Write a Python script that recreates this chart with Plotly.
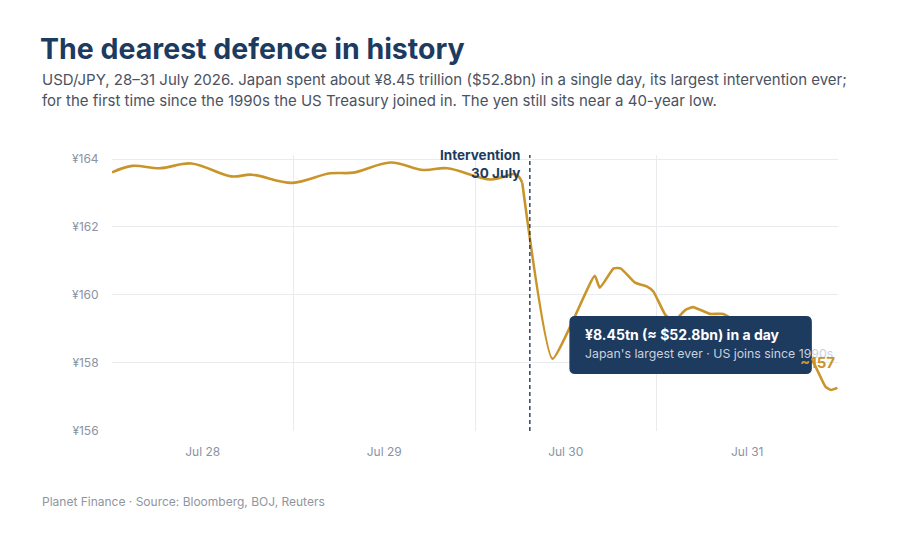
import plotly.graph_objects as go

# USD/JPY readings, 28-31 July 2026
times_before = [
    "2026-07-28 00:00", "2026-07-28 02:40", "2026-07-28 06:20", "2026-07-28 10:30",
    "2026-07-28 15:45", "2026-07-28 18:30", "2026-07-28 23:50",
    "2026-07-29 04:50", "2026-07-29 07:55", "2026-07-29 12:50", "2026-07-29 17:10",
    "2026-07-29 20:20",
    "2026-07-30 02:05", "2026-07-30 05:25", "2026-07-30 06:15",
]
usdjpy_before = [
    163.61, 163.80, 163.73, 163.87,
    163.49, 163.54, 163.30,
    163.58, 163.60, 163.90, 163.68,
    163.73,
    163.40, 163.55, 163.30,
]
times_after = [
    "2026-07-30 06:15", "2026-07-30 10:15",
    "2026-07-30 15:50", "2026-07-30 16:30", "2026-07-30 18:20", "2026-07-30 19:15",
    "2026-07-30 21:10", "2026-07-30 22:45", "2026-07-30 23:35",
    "2026-07-31 01:10", "2026-07-31 02:15", "2026-07-31 03:50", "2026-07-31 04:50",
    "2026-07-31 07:05", "2026-07-31 08:50", "2026-07-31 12:25", "2026-07-31 16:20",
    "2026-07-31 20:00", "2026-07-31 20:55", "2026-07-31 22:20", "2026-07-31 23:05",
    "2026-07-31 23:55",
]
usdjpy_after = [
    163.30, 158.12,
    160.56, 160.21, 160.78, 160.78,
    160.36, 160.24, 160.10,
    159.41, 159.22, 159.56, 159.64,
    159.44, 159.44, 158.95, 158.55,
    158.25, 157.94, 157.30, 157.20,
    157.26,
]

intervention_time = "2026-07-30 07:15"
y_ticks = [156, 158, 160, 162, 164]
y_labels = ["¥156", "¥158", "¥160", "¥162", "¥164"]

navy = "#1d3a5f"
gold = "#c9952b"
grey = "#8a93a3"
font = "Inter"

fig = go.Figure()

# calm days: smooth line; after the intervention: tighter curve
fig.add_trace(go.Scatter(
    x=times_before, y=usdjpy_before, mode="lines",
    line=dict(color=gold, width=2.6, shape="spline", smoothing=1.0),
    hoverinfo="skip",
))
fig.add_trace(go.Scatter(
    x=times_after, y=usdjpy_after, mode="lines",
    line=dict(color=gold, width=2.6, shape="spline", smoothing=0.45),
    hoverinfo="skip",
))

# dashed line on intervention day
fig.add_shape(type="line", xref="x", yref="paper",
              x0=intervention_time, x1=intervention_time, y0=0, y1=1,
              line=dict(color=navy, width=1.4, dash="4px,3px"), layer="above")

fig.add_annotation(x=intervention_time, xref="x", y=1.036, yref="paper",
                   text="<b>Intervention</b><br><b>30 July</b>", showarrow=False,
                   xanchor="right", yanchor="top", align="right", xshift=-8,
                   font=dict(family=font, size=13.5, color=navy))

# callout box (text deliberately runs past the right edge, as in the original)
bx0, bx1, by0, by1 = 0.630, 0.964, 0.2065, 0.417
rx, ry = 0.008, 0.021
box_path = (
    f"M {bx0+rx},{by0} L {bx1-rx},{by0} Q {bx1},{by0} {bx1},{by0+ry} "
    f"L {bx1},{by1-ry} Q {bx1},{by1} {bx1-rx},{by1} "
    f"L {bx0+rx},{by1} Q {bx0},{by1} {bx0},{by1-ry} "
    f"L {bx0},{by0+ry} Q {bx0},{by0} {bx0+rx},{by0} Z"
)
fig.add_shape(type="path", path=box_path, xref="paper", yref="paper",
              fillcolor=navy, line=dict(width=0), layer="above")

fig.add_annotation(x=0.649, xref="paper", y=0.348, yref="paper",
                   text="<b>¥8.45tn (≈ $52.8bn) in a day</b>", showarrow=False,
                   xanchor="left", yanchor="middle",
                   font=dict(family=font, size=14, color="white"))
fig.add_annotation(x=0.649, xref="paper", y=0.279, yref="paper",
                   text="Japan's largest ever · US joins since 1990s", showarrow=False,
                   xanchor="left", yanchor="middle",
                   font=dict(family=font, size=12.3, color="#c9d1dd"))

fig.add_annotation(x=0.998, xref="paper", y=0.250, yref="paper",
                   text="<b>~157</b>", showarrow=False,
                   xanchor="right", yanchor="middle",
                   font=dict(family=font, size=15, color=gold))

# subtitle and footer
fig.add_annotation(x=-0.0989, xref="paper", y=1.275, yref="paper",
                   text="USD/JPY, 28–31 July 2026. Japan spent about ¥8.45 trillion ($52.8bn) in a single day, its largest intervention ever;",
                   showarrow=False, xanchor="left", yanchor="middle",
                   font=dict(family=font, size=15, color="#4b5261"))
fig.add_annotation(x=-0.0989, xref="paper", y=1.199, yref="paper",
                   text="for the first time since the 1990s the US Treasury joined in. The yen still sits near a 40-year low.",
                   showarrow=False, xanchor="left", yanchor="middle",
                   font=dict(family=font, size=15, color="#4b5261"))
fig.add_annotation(x=-0.0989, xref="paper", y=-0.257, yref="paper",
                   text="Planet Finance · Source: Bloomberg, BOJ, Reuters",
                   showarrow=False, xanchor="left", yanchor="middle",
                   font=dict(family=font, size=12, color="#8f95a1"))

# the page sits 8px in from the window corner, so margins are shifted by that
fig.update_layout(
    width=906, height=540,
    margin=dict(l=104, r=76, t=147, b=117),
    paper_bgcolor="white", plot_bgcolor="white",
    showlegend=False,
    title=dict(text="<b>The dearest defence in history</b>",
               x=32 / 906, xanchor="left", xref="container",
               y=1 - 41 / 540, yanchor="middle", yref="container",
               font=dict(family=font, size=28.5, color=navy)),
    font=dict(family=font, color=grey),
    xaxis=dict(
        type="date", range=["2026-07-28 00:00", "2026-08-01 00:00"],
        dtick=86400000, tick0="2026-07-28", tickformat="%b %-d",
        ticklabelmode="period", showgrid=True, gridcolor="#e9ebef", gridwidth=1,
        zeroline=False, showline=False, ticks="outside", ticklen=10,
        tickcolor="rgba(0,0,0,0)", tickfont=dict(family=font, size=12, color=grey),
    ),
    yaxis=dict(
        range=[155.99, 164.12], tickvals=y_ticks, ticktext=y_labels,
        showgrid=True, gridcolor="#e9ebef", gridwidth=1, zeroline=False,
        showline=False, ticks="outside", ticklen=10, tickcolor="rgba(0,0,0,0)",
        tickfont=dict(family=font, size=12, color=grey),
    ),
)

fig.write_html("out.html")
